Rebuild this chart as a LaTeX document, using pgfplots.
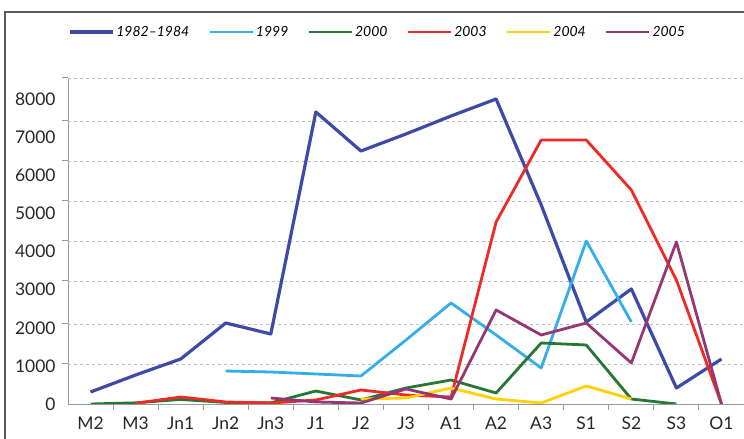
\documentclass[border=0pt]{standalone}
\usepackage{pgfplots}
\pgfplotsset{compat=1.18}
\usepackage{fontspec}
\setmainfont{Lato}

\definecolor{cBlue}{RGB}{61,74,168}
\definecolor{cSky}{RGB}{51,174,234}
\definecolor{cGreen}{RGB}{38,118,52}
\definecolor{cRed}{RGB}{238,42,36}
\definecolor{cYellow}{RGB}{255,210,0}
\definecolor{cPurple}{RGB}{150,55,115}

\begin{document}
\begin{tikzpicture}
\begin{axis}[
  at={(68bp,35bp)}, anchor=south west,
  scale only axis, width=676bp, height=326bp,
  xmin=-0.5, xmax=14.5, ymin=0, ymax=8557,
  axis lines*=left,
  axis line style={draw=black!40, line width=1bp},
  every tick/.style={draw=black!40, line width=1bp},
  major tick length=0pt,
  xtick={0,...,14},
  xticklabels={M2,M3,Jn1,Jn2,Jn3,J1,J2,J3,A1,A2,A3,S1,S2,S3,O1},
  ytick={0,1000,...,8000},
  ticklabel style={font=\fontsize{17.5}{20}\selectfont, text=black!85},
  yticklabel style={xshift=-9bp, /pgf/number format/1000 sep={}, /pgf/number format/assume math mode=true},
  xticklabel style={yshift=-9bp},
  extra y ticks={1050,2100,3229,4279,5329,6379,7429,8557},
  extra y tick labels={},
  extra y tick style={ymajorgrids, major tick length=6bp, tick align=outside,
    major grid style={draw=black!25, dash pattern=on 3bp off 3bp, line width=0.8bp}},
  extra x ticks={0.5,1.5,...,13.5},
  extra x tick labels={},
  extra x tick style={major tick length=6bp, tick align=outside},
  legend columns=6,
  legend style={draw=none, fill=none, inner sep=0pt,
    at={(axis description cs:0,1.141)}, anchor=west,
    font=\fontsize{14}{16}\selectfont\itshape,
    /tikz/every even column/.append style={column sep=17bp}},
  legend image code/.code={\draw[#1] (0bp,0bp) -- (43bp,0bp);},
  every axis plot/.append style={line width=2.8bp, mark=none, line join=round},
]
\addplot[cBlue, line width=3.2bp] coordinates {(0,315) (1,761) (2,1181) (3,2126) (4,1838) (5,7665) (6,6641) (7,7088) (8,7560) (9,8006) (10,5224) (11,2153) (12,3019) (13,420) (14,1181)};
\addlegendentry{1982–1984}
\addplot[cSky] coordinates {(3,866) (4,840) (5,788) (6,735) (7,1680) (8,2651) (9,1811) (10,945) (11,4279) (12,2153)};
\addlegendentry{1999}
\addplot[cGreen] coordinates {(0,0) (1,30) (2,120) (3,40) (4,30) (5,341) (6,105) (7,420) (8,630) (9,289) (10,1601) (11,1549) (12,131) (13,0)};
\addlegendentry{2000}
\addplot[cRed] coordinates {(1,20) (2,184) (3,53) (4,26) (5,105) (6,368) (7,236) (8,184) (9,4778) (10,6930) (11,6930) (12,5618) (13,3255) (14,0)};
\addlegendentry{2003}
\addplot[cYellow] coordinates {(6,130) (7,158) (8,420) (9,131) (10,26) (11,473) (12,131)};
\addlegendentry{2004}
\addplot[cPurple] coordinates {(4,158) (5,53) (6,26) (7,394) (8,131) (9,2468) (10,1811) (11,2126) (12,1076) (13,4253) (14,0)};
\addlegendentry{2005}
\end{axis}
\draw[black!65, line width=2bp] (5bp,0bp) -- (5bp,427bp) -- (744bp,427bp);
\pgfresetboundingbox
\useasboundingbox (0,0) rectangle (744bp,439bp);
\end{tikzpicture}
\end{document}
